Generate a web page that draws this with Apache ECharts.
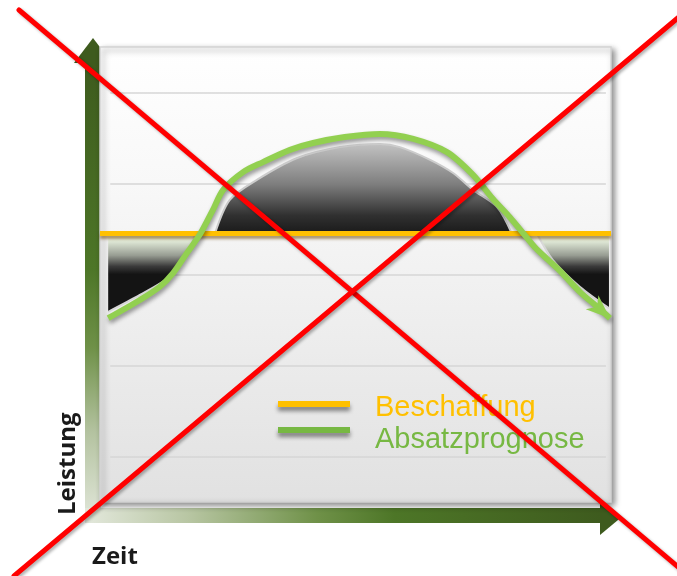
<!DOCTYPE html>
<html>
<head>
<meta charset="utf-8">
<script src="https://cdn.jsdelivr.net/npm/echarts@6/dist/echarts.min.js"></script>
<style>
html,body{margin:0;padding:0;background:#fff;}
#chart{width:677px;height:576px;}
</style>
</head>
<body>
<div id="chart"></div>
<script>
// ---- data ----
const seriesNames = ['Beschaffung', 'Absatzprognose'];
const axisNames = ['Zeit', 'Leistung'];
const beschaffungLevel = 5.9;
const gridLevels = [1, 3, 5, 7, 9];

const curveX = [1.6, 7.8, 11.7, 14.3, 17.0, 19.6, 22.1, 24.1, 28.0, 31.9, 37.2, 41.7, 47.9, 54.8, 61.3, 67.9, 73.0, 76.9, 80.2, 82.8, 85.1, 87.7, 90.0, 93.9, 97.3, 99.8];
const curveY = [4.04, 4.44, 4.73, 5.03, 5.47, 5.89, 6.42, 6.86, 7.25, 7.47, 7.74, 7.89, 8.02, 8.09, 7.98, 7.69, 7.19, 6.66, 6.26, 5.91, 5.60, 5.32, 5.08, 4.62, 4.29, 4.04];

const overX = [22.5, 25.4, 30.7, 38.6, 47.0, 54.8, 58.7, 64.6, 69.1, 73.0, 77.7, 80.6];
const overY = [5.9, 6.64, 7.08, 7.56, 7.80, 7.87, 7.80, 7.52, 7.23, 6.86, 6.48, 5.9];

const underLeftX = [1.6, 7.8, 13.7, 15.3, 18.2, 18.6];
const underLeftY = [4.18, 4.55, 4.95, 5.21, 5.76, 5.9];
const underRightX = [85.5, 88.6, 93.9, 99.6];
const underRightY = [5.9, 5.32, 4.73, 4.26];

// ---- build ----
const zip = (xs, ys) => xs.map((x, i) => [x, ys[i]]);
const curveData = zip(curveX, curveY);
const n = curveX.length;
const arrowData = [[curveX[n - 2], curveY[n - 2], curveX[n - 1], curveY[n - 1]]];
const underData = zip(underLeftX, underLeftY).concat([[50, '-']], zip(underRightX, underRightY));

const lin = (stops, horiz) => ({
  type: 'linear', x: 0, y: 0, x2: horiz ? 1 : 0, y2: horiz ? 0 : 1,
  colorStops: stops.map(s => ({ offset: s[0], color: s[1] }))
});

const txt = (x, y, text, font, fill, rot) => ({
  type: 'text', z: 20, x: x, y: y, rotation: rot || 0,
  style: { text: text, font: font, fill: fill, textAlign: 'left', textVerticalAlign: 'middle' }
});

const chart = echarts.init(document.getElementById('chart'), null, { renderer: 'canvas' });
chart.setOption({
  animation: false,
  grid: { left: 100, top: 47, width: 511, height: 455, show: false },
  xAxis: { type: 'value', min: 0, max: 100, show: false },
  yAxis: { type: 'value', min: 0, max: 10, show: false },
  graphic: [
    // y axis arrow
    { type: 'rect', z: 1, shape: { x: 85, y: 62, width: 16, height: 461 },
      style: { fill: lin([[0, '#3e5b1e'], [0.45, '#4d7627'], [0.62, '#6f9148'], [0.8, '#b3c29f'], [1, '#e3e8dc']]) } },
    { type: 'polygon', z: 1, shape: { points: [[74, 63], [112, 63], [93, 38]] }, style: { fill: '#3e5b1e' } },
    // x axis arrow
    { type: 'rect', z: 1, shape: { x: 85, y: 508, width: 516, height: 15 },
      style: { fill: lin([[0, '#e3e8dc'], [0.2, '#b8c6a3'], [0.45, '#6f9148'], [0.6, '#4d7627'], [1, '#3e5b1e']], true) } },
    { type: 'polygon', z: 1, shape: { points: [[600, 500], [600, 535], [621, 517.5]] }, style: { fill: '#3e5b1e' } },
    // plot box
    { type: 'rect', z: 1, shape: { x: 100, y: 47, width: 511, height: 455 },
      style: { fill: lin([[0, '#ffffff'], [0.3, '#f8f8f8'], [1, '#e1e1e1']]), stroke: '#d4d4d4', lineWidth: 1.5,
        shadowColor: 'rgba(0,0,0,0.45)', shadowBlur: 6, shadowOffsetX: 3, shadowOffsetY: 3 } },
    // axis names
    txt(92, 557, axisNames[0], 'bold 24px "Open Sans"', '#1a1a1a'),
    txt(68, 515, axisNames[1], 'bold 24px "Open Sans"', '#1a1a1a', Math.PI / 2),
    // legend
    { type: 'line', z: 20, shape: { x1: 278, y1: 404, x2: 350, y2: 404 },
      style: { stroke: '#ffc000', lineWidth: 6, shadowColor: 'rgba(0,0,0,0.45)', shadowBlur: 4, shadowOffsetY: 4 } },
    { type: 'line', z: 20, shape: { x1: 278, y1: 430, x2: 350, y2: 430 },
      style: { stroke: '#77b843', lineWidth: 6, shadowColor: 'rgba(0,0,0,0.45)', shadowBlur: 4, shadowOffsetY: 4 } },
    txt(375, 408, seriesNames[0], '29px "Liberation Sans"', '#ffc000'),
    txt(375, 440, seriesNames[1], '29px "Liberation Sans"', '#77b843'),
    // red cross
    { type: 'line', z: 100, shape: { x1: 19, y1: 10, x2: 690, y2: 577 },
      style: { stroke: '#ff0000', lineWidth: 5, lineCap: 'round', shadowColor: 'rgba(0,0,0,0.3)', shadowBlur: 3, shadowOffsetX: 2, shadowOffsetY: 2 } },
    { type: 'line', z: 100, shape: { x1: 692, y1: 6, x2: 14, y2: 576 },
      style: { stroke: '#ff0000', lineWidth: 5, lineCap: 'round', shadowColor: 'rgba(0,0,0,0.3)', shadowBlur: 3, shadowOffsetX: 2, shadowOffsetY: 2 } }
  ],
  series: [
    { type: 'line', name: 'grid', data: [], silent: true, z: 3,
      markLine: { silent: true, z: 3, symbol: ['none', 'none'], label: { show: false },
        lineStyle: { color: '#d6d6d6', width: 1.5, type: 'solid' },
        data: gridLevels.map(v => [{ coord: [2, v] }, { coord: [99, v] }]) } },
    { type: 'line', name: 'over', data: zip(overX, overY), smooth: 0.3, showSymbol: false, z: 4, silent: true,
      lineStyle: { color: '#cccccc', width: 2 },
      areaStyle: { origin: beschaffungLevel, opacity: 1,
        color: lin([[0, '#c2c2c2'], [0.45, '#7e7e7e'], [0.8, '#303030'], [1, '#1a1a1a']]) } },
    { type: 'line', name: 'under', data: underData, smooth: 0.3, showSymbol: false, connectNulls: false, z: 4, silent: true,
      lineStyle: { color: '#d8d8d8', width: 2 },
      areaStyle: { origin: beschaffungLevel, opacity: 1,
        color: lin([[0, '#f2f7ec'], [0.1, '#dfe8d6'], [0.28, '#979c92'], [0.42, '#3a3a3a'], [0.52, '#141414'], [1, '#141414']]) } },
    { type: 'line', name: seriesNames[0], data: [[0, beschaffungLevel], [100, beschaffungLevel]], showSymbol: false, z: 5, silent: true,
      lineStyle: { color: '#ffc000', width: 5, shadowColor: 'rgba(110,70,0,0.55)', shadowBlur: 3, shadowOffsetY: 3 } },
    { type: 'line', name: seriesNames[1], data: curveData, smooth: 0.3, showSymbol: false, clip: false, z: 6, silent: true,
      lineStyle: { color: '#92d050', width: 6, shadowColor: 'rgba(0,0,0,0.4)', shadowBlur: 4, shadowOffsetX: 1, shadowOffsetY: 3 } },
    { type: 'custom', name: 'arrowHead', data: arrowData, clip: false, z: 7, silent: true,
      encode: { x: [0, 2], y: [1, 3] },
      renderItem: function (params, api) {
        const a = api.coord([api.value(0), api.value(1)]);
        const b = api.coord([api.value(2), api.value(3)]);
        const dx = b[0] - a[0], dy = b[1] - a[1];
        const len = Math.sqrt(dx * dx + dy * dy) || 1;
        const ux = dx / len, uy = dy / len, px = -uy, py = ux;
        const L = 24, W = 19;
        const bx = b[0] - ux * L, by = b[1] - uy * L;
        const nx = b[0] - ux * L * 0.72, ny = b[1] - uy * L * 0.72;
        return {
          type: 'polygon',
          shape: { points: [[b[0], b[1]], [bx + px * W / 2, by + py * W / 2], [nx, ny], [bx - px * W / 2, by - py * W / 2]] },
          style: { fill: '#92d050' }
        };
      } }
  ]
});
</script>
</body>
</html>
